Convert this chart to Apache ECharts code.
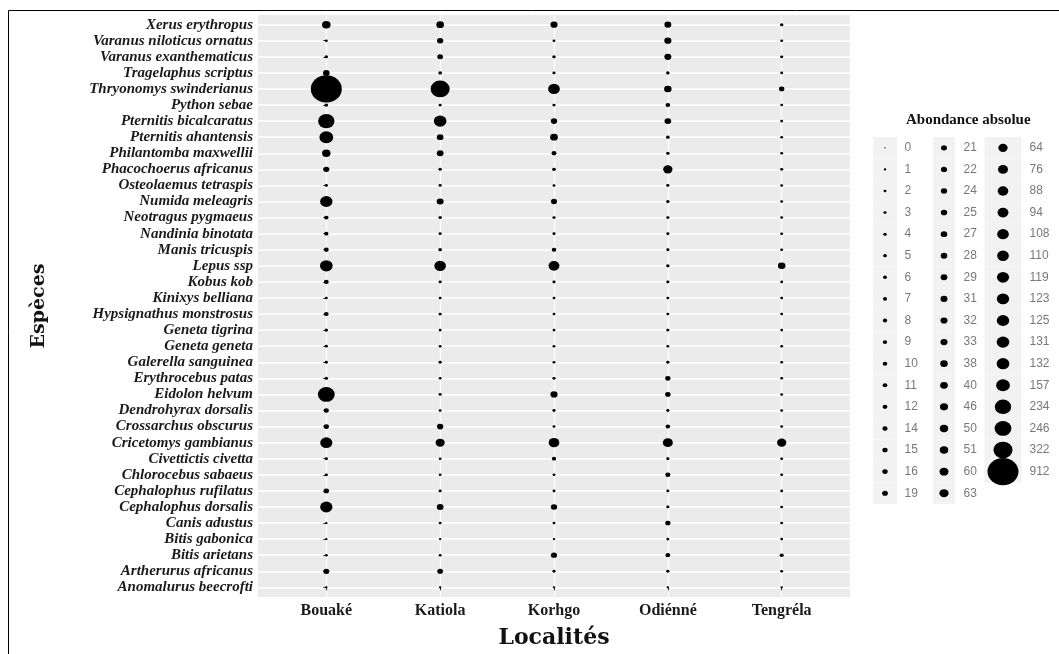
<!DOCTYPE html>
<html>
<head>
<meta charset="utf-8">
<script src="https://cdn.jsdelivr.net/npm/echarts@6/dist/echarts.min.js"></script>
<style>
  html, body { margin: 0; padding: 0; background: #fff; }
  #chart { width: 1059px; height: 654px; }
</style>
</head>
<body>
<div id="chart"></div>
<script>
// localités (axe x)
const localites = ["Bouaké", "Katiola", "Korhgo", "Odiénné", "Tengréla"];

// espèces, de haut en bas comme sur la figure
const especes = [
  "Xerus erythropus", "Varanus niloticus ornatus", "Varanus exanthematicus",
  "Tragelaphus scriptus", "Thryonomys swinderianus", "Python sebae",
  "Pternitis bicalcaratus", "Pternitis ahantensis", "Philantomba maxwellii",
  "Phacochoerus africanus", "Osteolaemus tetraspis", "Numida meleagris",
  "Neotragus pygmaeus", "Nandinia binotata", "Manis tricuspis", "Lepus ssp",
  "Kobus kob", "Kinixys belliana", "Hypsignathus monstrosus", "Geneta tigrina",
  "Geneta geneta", "Galerella sanguinea", "Erythrocebus patas", "Eidolon helvum",
  "Dendrohyrax dorsalis", "Crossarchus obscurus", "Cricetomys gambianus",
  "Civettictis civetta", "Chlorocebus sabaeus", "Cephalophus rufilatus",
  "Cephalophus dorsalis", "Canis adustus", "Bitis gabonica", "Bitis arietans",
  "Artherurus africanus", "Anomalurus beecrofti"
];

// abondance absolue par localité (même ordre que especes)
const bouake   = [51, 2, 4, 27, 912, 5, 234, 157, 50, 22, 3, 125, 9, 8, 12, 131, 12, 2, 11, 4, 3, 3, 4, 246, 14, 15, 119, 3, 3, 16, 123, 1, 1, 2, 21, 1];
const katiola  = [40, 24, 19, 5, 322, 3, 132, 28, 29, 4, 3, 31, 4, 3, 5, 108, 3, 2, 3, 2, 2, 3, 2, 3, 2, 25, 60, 2, 2, 3, 29, 2, 1, 2, 19, 1];
const korhgo   = [33, 2, 4, 3, 110, 3, 25, 40, 12, 6, 2, 21, 3, 3, 10, 94, 3, 2, 2, 2, 2, 2, 3, 33, 3, 2, 88, 8, 2, 2, 24, 2, 1, 22, 3, 1];
const odienne  = [31, 33, 32, 4, 38, 11, 29, 5, 4, 64, 3, 4, 3, 3, 3, 4, 3, 2, 2, 3, 2, 3, 15, 16, 3, 10, 76, 3, 14, 2, 3, 15, 2, 11, 3, 1];
const tengrela = [4, 2, 3, 2, 16, 2, 2, 2, 2, 3, 2, 2, 2, 2, 2, 38, 2, 2, 2, 2, 2, 2, 2, 2, 2, 2, 63, 2, 2, 2, 2, 2, 2, 7, 2, 1];

// valeurs de la légende
const legendeValeurs = [0, 1, 2, 3, 4, 5, 6, 7, 8, 9, 10, 11, 12, 14, 15, 16, 19,
  21, 22, 24, 25, 27, 28, 29, 31, 32, 33, 38, 40, 46, 50, 51, 60, 63,
  64, 76, 88, 94, 108, 110, 119, 123, 125, 131, 132, 157, 234, 246, 322, 912];

const colonnes = [bouake, katiola, korhgo, odienne, tengrela];
const n = especes.length;
const parColonne = 17;

const taille = (v) => 1.5 + 29.5 * Math.sqrt(v / 912);
const symbole = (d) => { const w = taille(d[2]); return [w, w * 0.88]; };

const points = [];
colonnes.forEach((vals, j) => {
  vals.forEach((v, i) => points.push([j, n - 1 - i, v]));
});

const legendePts = legendeValeurs.map((v, i) => [Math.floor(i / parColonne), i % parColonne, v]);
const largeurFond = [24, 22, 37];
const fonds = legendePts.map((p) => ({ value: p, symbolSize: [largeurFond[p[0]], 21.6] }));

const serif = "'Liberation Serif', 'DejaVu Serif', serif";
const serifLarge = "'DejaVu Serif', 'Liberation Serif', serif";

const chart = echarts.init(document.querySelector("#chart"));
chart.setOption({
  animation: false,
  backgroundColor: "#fff",
  title: {
    text: "Abondance absolue",
    left: 901, top: 108,
    textStyle: { fontFamily: serif, fontWeight: "bold", fontSize: 15, color: "#111" }
  },
  graphic: [{
    type: "polyline", silent: true,
    shape: { points: [[8.5, 654], [8.5, 10.5], [1059, 10.5]] },
    style: { stroke: "#000", lineWidth: 1, fill: null }
  }],
  grid: [
    { left: 258, top: 15, right: 209, bottom: 57, show: true, backgroundColor: "#EBEBEB", borderWidth: 0 },
    { left: 855.5, top: 137, width: 177, height: 367 }
  ],
  xAxis: [{
    type: "value", gridIndex: 0, min: -0.6, max: 4.6,
    axisLine: { show: false },
    axisTick: { show: true, customValues: [0, 1, 2, 3, 4], length: 3, lineStyle: { color: "#333" } },
    axisLabel: {
      customValues: [0, 1, 2, 3, 4], formatter: (v) => localites[v], margin: 6,
      fontFamily: serif, fontWeight: "bold", fontSize: 16, color: "#1a1a1a"
    },
    splitLine: { show: true, lineStyle: { color: "#fff", width: 1.2 } },
    name: "Localités", nameLocation: "middle", nameGap: 30,
    nameTextStyle: { fontFamily: serifLarge, fontWeight: "bold", fontSize: 22, color: "#111" }
  }, {
    type: "value", gridIndex: 1, min: -0.5, max: 2.5, show: false
  }],
  yAxis: [{
    type: "value", gridIndex: 0, min: -0.6, max: n - 0.4,
    axisLine: { show: false },
    axisTick: { show: true, customValues: especes.map((_, i) => i), length: 3, lineStyle: { color: "#333" } },
    axisLabel: {
      customValues: especes.map((_, i) => i), formatter: (v) => especes[n - 1 - v], margin: 5,
      fontFamily: serif, fontWeight: "bold", fontStyle: "italic", fontSize: 15, color: "#1a1a1a"
    },
    splitLine: { show: true, lineStyle: { color: "#fff", width: 1.6 } },
    name: "Espèces", nameLocation: "middle", nameGap: 209, nameRotate: 90,
    nameTextStyle: { fontFamily: serifLarge, fontWeight: "bold", fontSize: 19, color: "#111" }
  }, {
    type: "value", gridIndex: 1, min: -0.5, max: parColonne - 0.5, inverse: true, show: false
  }],
  series: [
    {
      type: "scatter", xAxisIndex: 0, yAxisIndex: 0, silent: true,
      data: points, symbolSize: symbole,
      itemStyle: { color: "#000", opacity: 1 }
    },
    {
      type: "scatter", xAxisIndex: 1, yAxisIndex: 1, silent: true,
      symbol: "rect", data: fonds,
      itemStyle: { color: "#F2F2F2", opacity: 1 }, z: 1
    },
    {
      type: "scatter", xAxisIndex: 1, yAxisIndex: 1, silent: true,
      data: legendePts, symbolSize: symbole,
      itemStyle: { color: "#000", opacity: 1 }, z: 3
    },
    {
      type: "scatter", xAxisIndex: 1, yAxisIndex: 1, silent: true,
      data: legendePts, symbolSize: 1,
      itemStyle: { color: "transparent" },
      label: {
        show: true, position: "right", distance: 0,
        formatter: (p) => p.value[2],
        fontFamily: "'Liberation Sans', Arial, sans-serif", fontSize: 12, color: "#555"
      },
      labelLayout: (p) => ({ dx: p.dataIndex >= 2 * parColonne ? 26 : 19 }),
      z: 4
    }
  ]
});
</script>
</body>
</html>
